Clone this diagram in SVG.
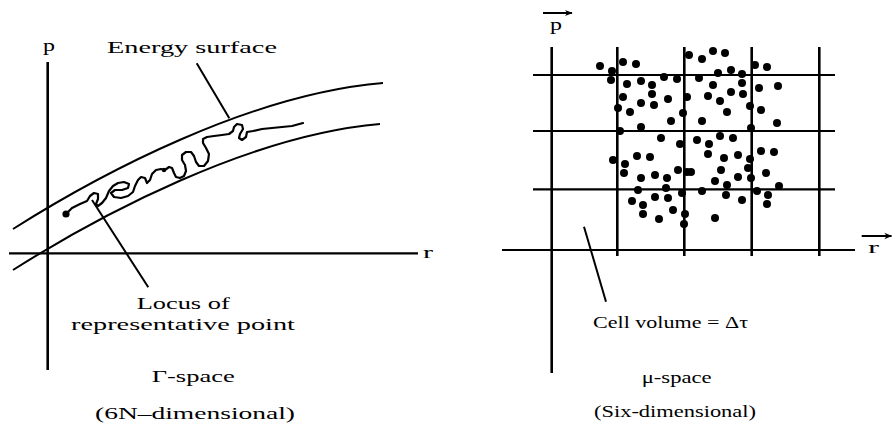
<svg xmlns="http://www.w3.org/2000/svg" width="893" height="426" viewBox="0 0 893 426">
<defs>
<style>
.ax{stroke:#000;stroke-width:2.6;fill:none}
.hl{stroke:#000;stroke-width:2.2;fill:none}
.cv{stroke:#000;stroke-width:2;fill:none}
.ld{stroke:#000;stroke-width:2;fill:none}
.sq{stroke:#000;stroke-width:2.2;fill:none;stroke-linejoin:round;stroke-linecap:round}
.t{font-family:"Liberation Serif","Times New Roman",serif;font-size:17.5px;fill:#000}
.dots circle{fill:#000}
</style>
<marker id="ah" viewBox="0 0 10 10" refX="9" refY="5" markerWidth="8" markerHeight="8" markerUnits="userSpaceOnUse" orient="auto">
<path d="M0,1 L10,5 L0,9 L3,5 Z" fill="#000"/>
</marker>
</defs>
<rect width="893" height="426" fill="#fff"/>

<g id="gamma-space">
<g id="gamma-axes">
<line class="ax" x1="47.7" y1="62" x2="47.7" y2="370"/>
<line class="hl" x1="9" y1="253.3" x2="418" y2="253.3"/>
<text class="t" x="43" y="51.3" textLength="12" lengthAdjust="spacingAndGlyphs">p</text>
<text class="t" x="423" y="258" textLength="10" lengthAdjust="spacingAndGlyphs">r</text>
</g>
<g id="energy-surface">
<path class="cv" d="M13,229 C100,174 250,94 383,83"/>
<path class="cv" d="M13,270 C100,215 250,135 380,124"/>
<text class="t" x="107" y="53.3" textLength="170" lengthAdjust="spacingAndGlyphs">Energy  surface</text>
</g>
<g id="locus">
<path class="sq" d="M66,214 L72,208 L80,204 L87,201 L90,196 L94,193 L98,194 L98,199 L96,204 L98,206 L102,203 L106,198 L109,191 L113,186 L118,183 L124,182 L129,184 L128,188 L122,190 L115,190 L111,193 L114,197 L121,198 L128,196 L133,192 L135,186 L138,180 L141,177 L145,178 L147,183 L150,180 L152,174 L156,170 L161,169 L165,170 L169,167 L172,168 L174,173 L176,177 L180,178 L184,176 L186,171 L185,165 L182,160 L182,155 L186,152 L191,152 L194,156 L196,162 L199,166 L204,166 L208,161 L209,154 L206,148 L203,143 L203,139 L207,137 L214,136 L222,135 L229,134 L233,131 L234,127 L237,124 L242,125 L243,129 L240,134 L239,138 L242,140 L246,137 L247,132 L253,131 L262,129 L272,128 L282,127 L292,126 L303,123"/>
<circle cx="66" cy="214" r="3.6" fill="#000"/>
<circle cx="164" cy="170" r="2.2" fill="#000"/>
<text class="t" x="136.7" y="309.3" textLength="93" lengthAdjust="spacingAndGlyphs">Locus of</text>
<text class="t" x="71" y="329.5" textLength="224" lengthAdjust="spacingAndGlyphs">representative point</text>
</g>
<g id="gamma-caption">
<text class="t" x="151.7" y="381.7" textLength="83" lengthAdjust="spacingAndGlyphs">Γ-space</text>
<text class="t" x="95" y="419" textLength="200" lengthAdjust="spacingAndGlyphs">(6N–dimensional)</text>
</g>
</g>

<g id="mu-space">
<g id="mu-grid">
<line class="ax" x1="551.7" y1="47" x2="551.7" y2="373"/>
<line class="ax" x1="617.3" y1="47" x2="617.3" y2="256"/>
<line class="ax" x1="684.3" y1="47" x2="684.3" y2="256"/>
<line class="ax" x1="751.7" y1="47" x2="751.7" y2="256"/>
<line class="ax" x1="819.3" y1="47" x2="819.3" y2="256"/>
<line class="hl" x1="533" y1="75" x2="835" y2="75"/>
<line class="hl" x1="533" y1="131" x2="835" y2="131"/>
<line class="hl" x1="533" y1="189.3" x2="835" y2="189.3"/>
<line class="hl" x1="502" y1="250" x2="855" y2="250"/>
<text class="t" x="550" y="29.7" textLength="12" lengthAdjust="spacingAndGlyphs">p</text>
<text class="t" x="868" y="253.3" textLength="11" lengthAdjust="spacingAndGlyphs">r</text>
</g>
<g class="dots" id="particles">
<circle cx="600" cy="66" r="4"/><circle cx="612" cy="71" r="4"/><circle cx="623" cy="62" r="4"/><circle cx="636" cy="64" r="4"/>
<circle cx="611" cy="80" r="4"/><circle cx="627" cy="84" r="4"/><circle cx="641" cy="81" r="4"/><circle cx="652" cy="85" r="4"/>
<circle cx="664" cy="77" r="4"/><circle cx="677" cy="79" r="4"/><circle cx="623" cy="97" r="4"/><circle cx="652" cy="94" r="4"/>
<circle cx="641" cy="103" r="4"/><circle cx="654" cy="105" r="4"/><circle cx="668" cy="99" r="4"/><circle cx="618" cy="108" r="4"/>
<circle cx="630" cy="112" r="4"/><circle cx="671" cy="121" r="4"/><circle cx="641" cy="127" r="4"/><circle cx="620" cy="131" r="4"/>
<circle cx="689" cy="55" r="4"/><circle cx="702" cy="59" r="4"/><circle cx="713" cy="51" r="4"/><circle cx="725" cy="53" r="4"/>
<circle cx="755" cy="65" r="4"/><circle cx="767" cy="67" r="4"/><circle cx="718" cy="73" r="4"/><circle cx="731" cy="70" r="4"/>
<circle cx="742" cy="74" r="4"/><circle cx="699" cy="78" r="4"/><circle cx="713" cy="85" r="4"/><circle cx="742" cy="83" r="4"/>
<circle cx="759" cy="88" r="4"/><circle cx="778" cy="86" r="4"/><circle cx="731" cy="92" r="4"/><circle cx="743" cy="94" r="4"/>
<circle cx="708" cy="96" r="4"/><circle cx="687" cy="97" r="4"/><circle cx="720" cy="101" r="4"/><circle cx="750" cy="106" r="4"/>
<circle cx="761" cy="110" r="4"/><circle cx="727" cy="112" r="4"/><circle cx="683" cy="113" r="4"/><circle cx="702" cy="121" r="4"/>
<circle cx="777" cy="123" r="4"/><circle cx="751" cy="128" r="4"/>
<circle cx="661" cy="138" r="4"/><circle cx="680" cy="144" r="4"/><circle cx="613" cy="160" r="4"/><circle cx="625" cy="164" r="4"/>
<circle cx="637" cy="156" r="4"/><circle cx="650" cy="157" r="4"/><circle cx="624" cy="173" r="4"/><circle cx="641" cy="178" r="4"/>
<circle cx="655" cy="175" r="4"/><circle cx="667" cy="178" r="4"/><circle cx="678" cy="170" r="4"/><circle cx="687" cy="172" r="4"/>
<circle cx="638" cy="190" r="4"/><circle cx="666" cy="188" r="4"/><circle cx="682" cy="193" r="4"/><circle cx="632" cy="201" r="4"/>
<circle cx="655" cy="197" r="4"/><circle cx="668" cy="198" r="4"/><circle cx="643" cy="205" r="4"/><circle cx="643" cy="214" r="4"/>
<circle cx="673" cy="210" r="4"/><circle cx="659" cy="219" r="4"/><circle cx="685" cy="214" r="4"/><circle cx="684" cy="224" r="4"/>
<circle cx="697" cy="140" r="4"/><circle cx="709" cy="144" r="4"/><circle cx="720" cy="136" r="4"/><circle cx="733" cy="138" r="4"/>
<circle cx="708" cy="154" r="4"/><circle cx="724" cy="158" r="4"/><circle cx="738" cy="155" r="4"/><circle cx="750" cy="159" r="4"/>
<circle cx="761" cy="151" r="4"/><circle cx="774" cy="152" r="4"/><circle cx="691" cy="172" r="4"/><circle cx="721" cy="170" r="4"/>
<circle cx="748" cy="168" r="4"/><circle cx="766" cy="173" r="4"/><circle cx="738" cy="177" r="4"/><circle cx="715" cy="181" r="4"/>
<circle cx="727" cy="185" r="4"/><circle cx="751" cy="178" r="4"/><circle cx="779" cy="186" r="4"/><circle cx="702" cy="191" r="4"/>
<circle cx="726" cy="195" r="4"/><circle cx="742" cy="200" r="4"/><circle cx="757" cy="191" r="4"/><circle cx="768" cy="195" r="4"/>
<circle cx="767" cy="204" r="4"/><circle cx="715" cy="218" r="4"/>
</g>
<g id="cell-label">
<text class="t" x="593" y="328.3" textLength="155" lengthAdjust="spacingAndGlyphs">Cell volume = Δτ</text>
</g>
<g id="mu-caption">
<text class="t" x="641.7" y="383.3" textLength="70" lengthAdjust="spacingAndGlyphs">μ-space</text>
<text class="t" x="594" y="416.7" textLength="162" lengthAdjust="spacingAndGlyphs">(Six-dimensional)</text>
</g>
</g>

<g id="connectors">
<line class="ld" x1="196.7" y1="63.3" x2="229.3" y2="118.3"/>
<line class="ld" x1="92" y1="200" x2="148.3" y2="287.3"/>
<line class="ld" x1="584" y1="226.7" x2="606" y2="301.7"/>
<line class="ld" x1="543" y1="13" x2="572" y2="13" marker-end="url(#ah)"/>
<line class="ld" x1="861.7" y1="236" x2="891.5" y2="236" marker-end="url(#ah)"/>
</g>
</svg>
